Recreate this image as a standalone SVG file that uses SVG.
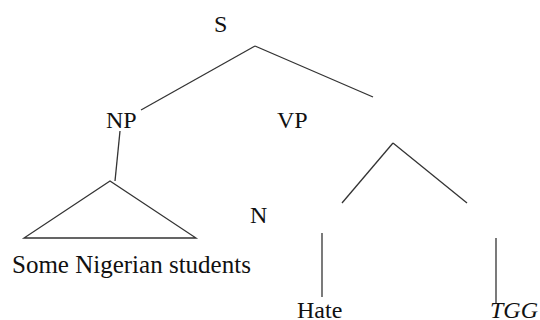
<svg xmlns="http://www.w3.org/2000/svg" width="540" height="320" viewBox="0 0 540 320">
<style>
text{font-family:"Liberation Serif","Times New Roman",serif;font-size:24px;fill:#111}
.c line,.c polygon{stroke:#333;stroke-width:1.3;fill:none}
</style>
<rect width="540" height="320" fill="#fff"/>
<g class="c" id="connectors">
<line x1="255" y1="46" x2="141" y2="110"/>
<line x1="255" y1="46" x2="373" y2="97"/>
<line x1="120" y1="131" x2="115" y2="181"/>
<polygon points="110,181 24,238 196,238"/>
<line x1="393" y1="143" x2="342" y2="203"/>
<line x1="393" y1="143" x2="467" y2="203"/>
<line x1="322" y1="233" x2="322" y2="297"/>
<line x1="496" y1="238" x2="496" y2="303"/>
</g>
<g id="S"><text x="214" y="32">S</text></g>
<g id="NP"><text x="106" y="128">NP</text></g>
<g id="VP"><text x="277" y="128">VP</text></g>
<g id="N"><text x="250" y="223">N</text></g>
<g id="phrase"><text x="12" y="273" style="font-size:25px">Some Nigerian students</text></g>
<g id="Hate"><text x="297" y="318">Hate</text></g>
<g id="TGG"><text x="490" y="318" font-style="italic">TGG</text></g>
</svg>
